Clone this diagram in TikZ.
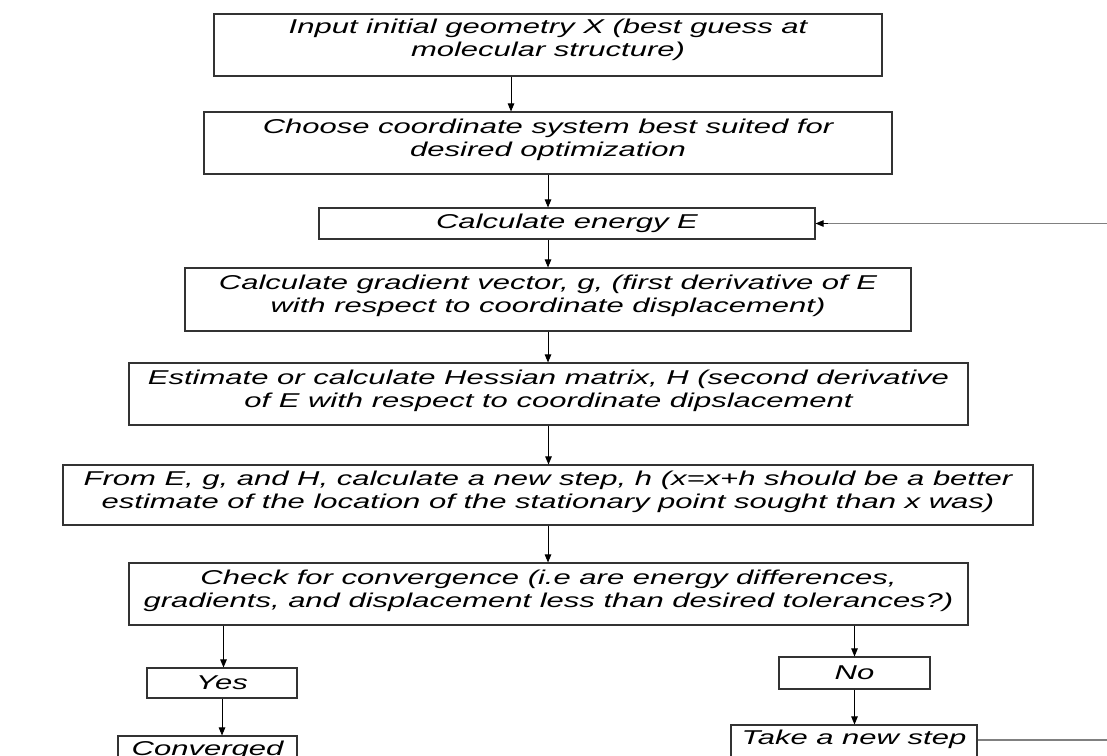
\documentclass[tikz,border=0pt]{standalone}
\usepackage{fontspec}
\newfontfamily\boxfont{Liberation Sans}[FakeStretch=1.55]
\usetikzlibrary{arrows.meta}
\tikzset{
  box/.style={draw=black!80, line width=1.1pt, inner sep=0pt, fill=white},
  txt/.style={font=\boxfont\itshape\fontsize{20}{23}\selectfont, align=center, inner sep=0pt, anchor=north},
  onetxt/.style={box, font=\boxfont\itshape\fontsize{20}{23}\selectfont},
  arr/.style={draw=black, line width=0.9pt, -{Triangle[length=8pt,width=6.5pt]}},
  back/.style={draw=black!50, line width=1.1pt}
}
\begin{document}
\begin{tikzpicture}[x=1pt,y=-1pt]
\useasboundingbox[fill=white] (0,0) rectangle (1107,755);
% boxes
\node[box, minimum width=668pt, minimum height=62pt] (b1) at (548,45) {};
\node[txt] (t1) at (548,19) {Input initial geometry X (best guess at\\molecular structure)};
\node[box, minimum width=688pt, minimum height=62pt] (b2) at (548,143) {};
\node[txt] (t2) at (548,119) {Choose coordinate system best suited for\\desired optimization};
\node[onetxt, minimum width=496pt, minimum height=31pt] (b3) at (567,223.5) {Calculate energy E};
\node[box, minimum width=726pt, minimum height=63pt] (b4) at (548,299.5) {};
\node[txt] (t4) at (548,275) {Calculate gradient vector, g, (first derivative of E\\with respect to coordinate displacement)};
\node[box, minimum width=839pt, minimum height=62pt] (b5) at (548.5,394) {};
\node[txt] (t5) at (548.5,370) {Estimate or calculate Hessian matrix, H (second derivative\\of E with respect to coordinate dipslacement};
\node[box, minimum width=970pt, minimum height=60pt] (b6) at (548,495) {};
\node[txt] (t6) at (548,471) {From E, g, and H, calculate a new step, h (x=x+h should be a better\\estimate of the location of the stationary point sought than x was)};
\node[box, minimum width=839pt, minimum height=62pt] (b7) at (548.5,594) {};
\node[txt] (t7) at (548.5,570) {Check for convergence (i.e are energy differences,\\gradients, and displacement less than desired tolerances?)};
\node[onetxt, minimum width=150pt, minimum height=30pt] (yes) at (222,683) {Yes};
\node[onetxt, minimum width=151pt, minimum height=32pt] (no) at (854.5,673) {No};
\node[box, minimum width=179pt, minimum height=40pt] (conv) at (207.5,756) {};
\node[txt] (tconv) at (207.5,741) {Converged};
\node[box, minimum width=246pt, minimum height=40pt] (take) at (854,745) {};
\node[txt] (ttake) at (854,730) {Take a new step};
% arrows
\draw[arr] ([xshift=-37pt]b1.south) -- ([xshift=-37pt]b1.south |- b2.north);
\draw[arr] (b2.south) -- (b2.south |- b3.north);
\draw[arr] (b4.north |- b3.south) -- (b4.north);
\draw[arr] (b4.south) -- (b4.south |- b5.north);
\draw[arr] (b5.south) -- (b5.south |- b6.north);
\draw[arr] (b6.south) -- (b6.south |- b7.north);
\draw[arr] ([xshift=1.5pt]yes.north |- b7.south) -- ([xshift=1.5pt]yes.north);
\draw[arr] (no.north |- b7.south) -- (no.north);
\draw[arr] (yes.south) -- (yes.south |- conv.north);
\draw[arr] (no.south) -- (no.south |- take.north);
% feedback loop
\coordinate (fr) at (1112,740);
\coordinate (ft) at (1112,223.5);
\draw[back] (take.east |- fr) -- (fr) -- (ft) -- ([xshift=12pt]b3.east);
\draw[arr] ([xshift=12pt]b3.east) -- (b3.east);
\end{tikzpicture}
\end{document}
